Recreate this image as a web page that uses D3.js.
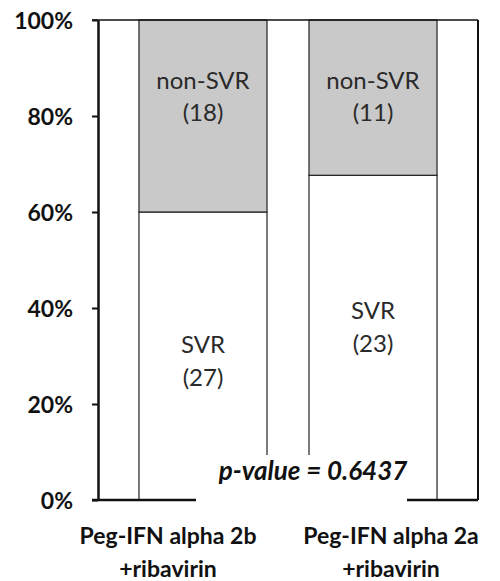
<!DOCTYPE html>
<html>
<head>
<meta charset="utf-8">
<script src="https://cdn.jsdelivr.net/npm/d3@7"></script>
<style>
  html, body { margin: 0; padding: 0; background: #fff; }
  svg { display: block; font-family: Lato, "Open Sans", sans-serif; }
</style>
</head>
<body>
<div id="chart"></div>
<script>
// ---- data ----
const categories = ["Peg-IFN alpha 2b +ribavirin", "Peg-IFN alpha 2a +ribavirin"];
const categoryLines = [["Peg-IFN alpha 2b", "+ribavirin"], ["Peg-IFN alpha 2a", "+ribavirin"]];
const svrCounts = [27, 23];
const nonSvrCounts = [18, 11];
const seriesNames = ["SVR", "non-SVR"];
const yTicks = [0, 20, 40, 60, 80, 100];
const pValueText = "p-value = 0.6437";

// ---- layout ----
const W = 500, H = 581;
const plotLeft = 98, plotRight = 478, plotTop = 20, plotBottom = 500;

const svg = d3.select("#chart").append("svg").attr("width", W).attr("height", H);

const y = d3.scaleLinear().domain([0, 100]).range([plotBottom, plotTop]);
const x = d3.scaleBand().domain(categories).range([plotLeft, plotRight])
  .paddingInner(0.247).paddingOuter(0.241);
const xLabel = d3.scalePoint().domain(categories).range([168, 391]);

const rows = categories.map((c, i) => {
  const total = svrCounts[i] + nonSvrCounts[i];
  return { cat: c, svr: svrCounts[i], non: nonSvrCounts[i],
           svrPct: svrCounts[i] / total * 100 };
});

// bars: SVR (white) bottom segment
svg.append("g").selectAll("rect.svr").data(rows).join("rect")
  .attr("class", "svr")
  .attr("x", d => x(d.cat))
  .attr("y", d => y(d.svrPct))
  .attr("width", x.bandwidth())
  .attr("height", d => y(0) - y(d.svrPct))
  .attr("fill", "#fff").attr("stroke", "#222").attr("stroke-width", 1.2);

// non-SVR (gray) top segment
svg.append("g").selectAll("rect.non").data(rows).join("rect")
  .attr("class", "non")
  .attr("x", d => x(d.cat))
  .attr("y", y(100))
  .attr("width", x.bandwidth())
  .attr("height", d => y(d.svrPct) - y(100))
  .attr("fill", "#c9c9c9").attr("stroke", "#222").attr("stroke-width", 1.2);

// frame top and right
svg.append("line").attr("x1", plotLeft - 6).attr("x2", plotRight).attr("y1", y(100)).attr("y2", y(100))
  .attr("stroke", "#111").attr("stroke-width", 1.5);
svg.append("line").attr("x1", plotRight).attr("x2", plotRight).attr("y1", y(100)).attr("y2", y(0))
  .attr("stroke", "#111").attr("stroke-width", 2);

// y axis
const yAxis = d3.axisLeft(y).tickValues(yTicks).tickFormat(d => d + "%").tickSize(6).tickSizeOuter(0);
const gy = svg.append("g").attr("transform", `translate(${plotLeft},0)`).call(yAxis);
gy.select(".domain").attr("stroke", "#111").attr("stroke-width", 2.5);
gy.selectAll(".tick line").attr("stroke", "#111").attr("stroke-width", 2);
gy.selectAll(".tick text").attr("x", -25).attr("dy", "0.38em")
  .style("font-family", "Lato, sans-serif").style("font-size", "23px").style("font-weight", "bold").attr("fill", "#111");

// x axis baseline
svg.append("line").attr("x1", plotLeft - 6).attr("x2", plotRight).attr("y1", y(0)).attr("y2", y(0))
  .attr("stroke", "#111").attr("stroke-width", 2.5);

// segment labels
const labelFont = "24px";
rows.forEach(d => {
  const cx = x(d.cat) + x.bandwidth() / 2;
  const gN = svg.append("text").attr("x", cx).attr("text-anchor", "middle")
    .style("font-size", labelFont).attr("fill", "#2a2a2a");
  gN.append("tspan").attr("x", cx).attr("y", y(84) - 8).text(seriesNames[1]);
  gN.append("tspan").attr("x", cx).attr("y", y(84) + 24).text(`(${d.non})`);
});
// SVR labels: centred lower in the bar
const svrLabelPct = [29, 36];
rows.forEach((d, i) => {
  const cx = x(d.cat) + x.bandwidth() / 2;
  const t = svg.append("text").attr("text-anchor", "middle")
    .style("font-size", labelFont).attr("fill", "#2a2a2a");
  t.append("tspan").attr("x", cx).attr("y", y(svrLabelPct[i]) - 8).text(seriesNames[0]);
  t.append("tspan").attr("x", cx).attr("y", y(svrLabelPct[i]) + 25).text(`(${d.svr})`);
});

// p-value box (white background interrupting bars and baseline)
svg.append("rect").attr("x", 196).attr("y", 455).attr("width", 211).attr("height", 52).attr("fill", "#fff");
svg.append("text").attr("x", 313).attr("y", 480).attr("text-anchor", "middle")
  .style("font-size", "26px").style("font-weight", "bold").style("font-style", "italic")
  .attr("fill", "#111").text(pValueText);

// category labels
categories.forEach((c, i) => {
  const t = svg.append("text").attr("text-anchor", "middle")
    .style("font-size", "23px").style("font-weight", "bold").attr("fill", "#111");
  categoryLines[i].forEach((line, k) => {
    t.append("tspan").attr("x", xLabel(c)).attr("y", 544 + k * 33).text(line);
  });
});
</script>
</body>
</html>
